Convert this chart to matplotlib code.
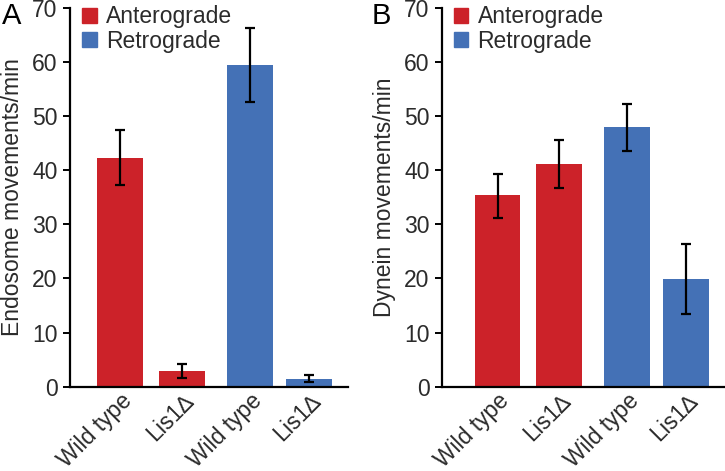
import matplotlib.pyplot as plt
from matplotlib.patches import Patch

plt.rcParams['font.family'] = ['Liberation Sans', 'DejaVu Sans']

labels = ["Wild type", "Lis1\u2206", "Wild type", "Lis1\u2206"]
kinds = ["Anterograde", "Anterograde", "Retrograde", "Retrograde"]

endosome = [42.3, 2.9, 59.4, 1.5]
endosome_lo = [37.3, 1.6, 52.5, 0.9]
endosome_hi = [47.3, 4.2, 66.2, 2.1]

dynein = [35.3, 41.1, 47.9, 19.9]
dynein_lo = [31.2, 36.7, 43.6, 13.5]
dynein_hi = [39.3, 45.5, 52.2, 26.4]

colors = {"Anterograde": "#cc2229", "Retrograde": "#4471b6"}
text_col = "#2b2b2b"

fig = plt.figure(figsize=(7.25, 4.71), dpi=100)


def draw_panel(rect, vals, lo, hi, ylabel, xlim):
    ax = fig.add_axes(rect)
    pos = [0, 1, 2.1, 3.05]
    err = [[v - l for v, l in zip(vals, lo)], [h - v for v, h in zip(vals, hi)]]
    ax.bar(pos, vals, width=0.74, color=[colors[k] for k in kinds])
    ax.errorbar(pos, vals, yerr=err, fmt="none", ecolor="black",
                elinewidth=1.6, capsize=3.3, capthick=1.6)
    ax.set_xlim(*xlim)
    ax.set_ylim(0, 70)
    ax.set_yticks(range(0, 71, 10))
    ax.set_xticks(pos)
    ax.set_xticklabels(labels, rotation=45, ha="right", rotation_mode="anchor",
                       fontsize=16.5, color=text_col)
    ax.tick_params(axis="x", length=0, pad=2)
    ax.tick_params(axis="y", labelsize=16.5, labelcolor=text_col, length=5,
                   width=1.4, direction="out", pad=4)
    for s in ["top", "right"]:
        ax.spines[s].set_visible(False)
    for s in ["left", "bottom"]:
        ax.spines[s].set_linewidth(1.6)
    ax.set_ylabel(ylabel, fontsize=16.5, color=text_col, labelpad=6)
    handles = [Patch(color=colors["Anterograde"], label="Anterograde"),
               Patch(color=colors["Retrograde"], label="Retrograde")]
    ax.legend(handles=handles, loc="upper left", bbox_to_anchor=(-0.03, 1.06),
              frameon=False, fontsize=16.5, handlelength=0.62, handleheight=0.62,
              handletextpad=0.4, labelspacing=0.05, labelcolor=text_col)
    return ax


axA = draw_panel([0.0966, 0.179, 0.383, 0.805], endosome, endosome_lo, endosome_hi,
                 "Endosome movements/min", (-0.81, 3.67))
axB = draw_panel([0.6097, 0.179, 0.389, 0.805], dynein, dynein_lo, dynein_hi,
                 "Dynein movements/min", (-0.9, 3.67))

fig.text(0.002, 0.995, "A", fontsize=21, va="top", ha="left", color="black")
fig.text(0.512, 0.995, "B", fontsize=21, va="top", ha="left", color="black")

fig.savefig("out.png", dpi=100)
